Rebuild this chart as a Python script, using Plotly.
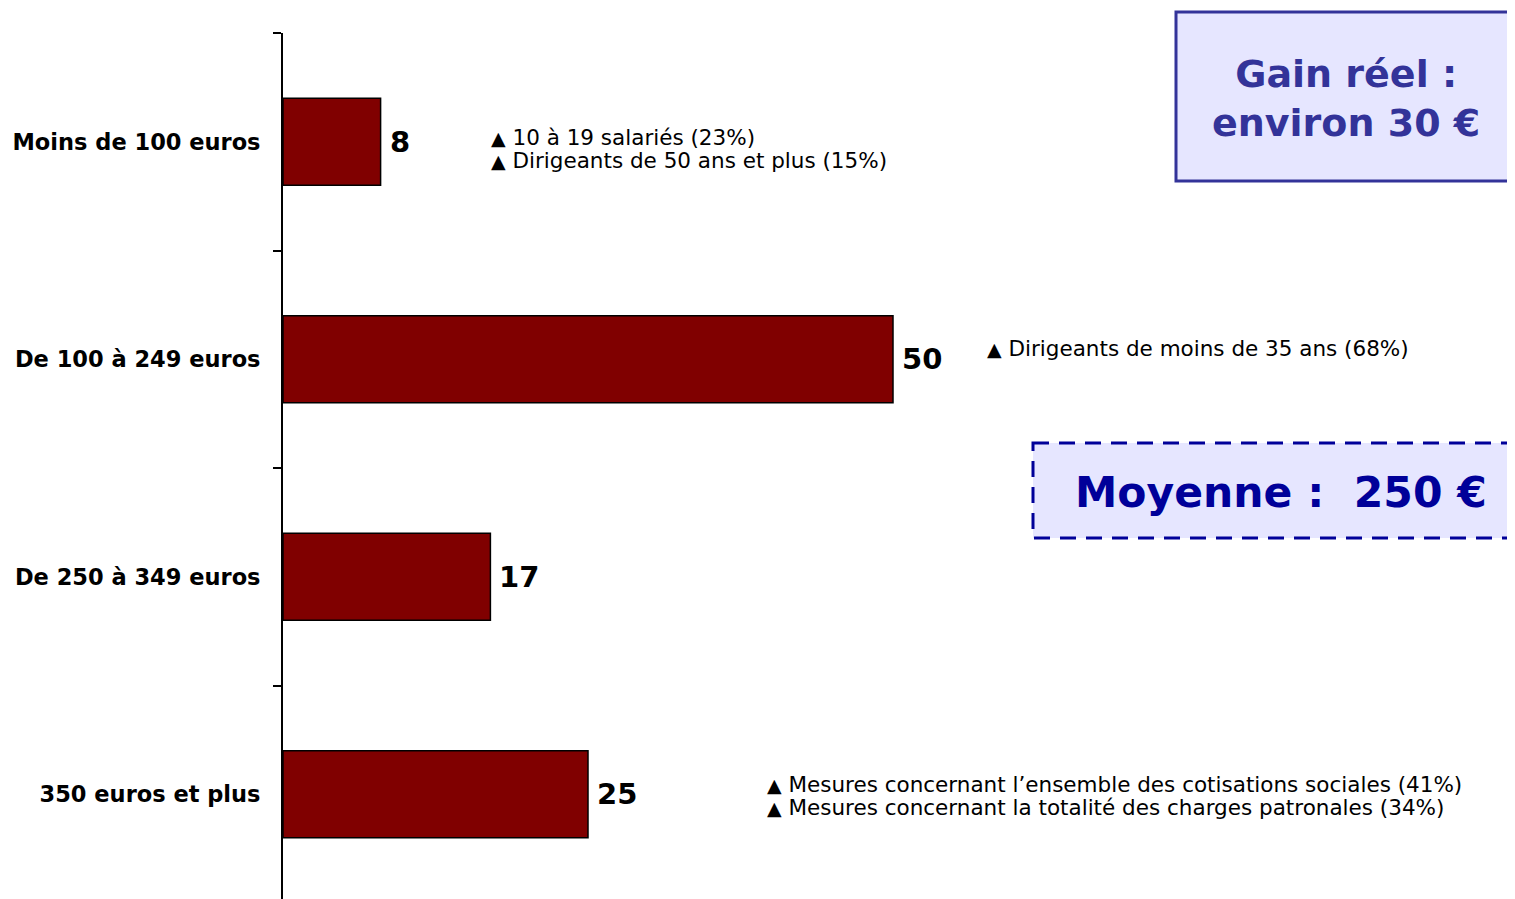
import plotly.graph_objects as go

categories = ["Moins de 100 euros", "De 100 à 249 euros", "De 250 à 349 euros", "350 euros et plus"]
values = [8, 50, 17, 25]
notes = [
    ["10 à 19 salariés (23%)", "Dirigeants de 50 ans et plus (15%)"],
    ["Dirigeants de moins de 35 ans (68%)"],
    [],
    ["Mesures concernant l’ensemble des cotisations sociales (41%)",
     "Mesures concernant la totalité des charges patronales (34%)"],
]
gain_text = "Gain réel :<br>environ 30 €"
moyenne_text = "Moyenne :  250 €"

# page body has an 8px margin; work in page pixels and convert
OFF = 8
W, H = 1515, 899
AXIS_X, TOP_Y = 283, 33
ML, MT = AXIS_X - OFF, TOP_Y - OFF
PW, PH = W - ML, H - MT

def px(x):
    return (x - AXIS_X) / PW

def py(y):
    return 1 - (y - TOP_Y) / PH

FONT = "DejaVu Sans, Verdana, sans-serif"
BAR_COLOR = "#800000"

fig = go.Figure()
fig.add_trace(go.Bar(
    x=values, y=categories, orientation="h", width=0.4,
    marker=dict(color=BAR_COLOR, line=dict(color="black", width=1.5)),
    hoverinfo="skip",
))

annotations = []
for c, v in zip(categories, values):
    annotations.append(dict(
        x=v, y=c, xref="x", yref="y", text=f"<b>{v}</b>", showarrow=False,
        xanchor="left", yanchor="middle", xshift=7,
        font=dict(family=FONT, size=29, color="black"),
    ))

# note placements (left x in page px, first line center y in page px)
note_pos = [(489, 137), (985, 348), None, (765, 784)]
for lines, pos in zip(notes, note_pos):
    if not lines:
        continue
    x0, y0 = pos
    for i, line in enumerate(lines):
        annotations.append(dict(
            x=px(x0), y=py(y0 + 23 * i), xref="paper", yref="paper",
            text="<span style='font-size:19px'>▲</span> " + line,
            showarrow=False, xanchor="left", yanchor="middle",
            font=dict(family=FONT, size=21.5, color="black"),
        ))

annotations.append(dict(
    x=px(1346), y=py(99), xref="paper", yref="paper", text=f"<b>{gain_text}</b>",
    showarrow=False, xanchor="center", yanchor="middle", align="center",
    font=dict(family=FONT, size=38, color="#333399"),
))
annotations.append(dict(
    x=px(1281), y=py(492), xref="paper", yref="paper", text=f"<b>{moyenne_text}</b>",
    showarrow=False, xanchor="center", yanchor="middle",
    font=dict(family=FONT, size=42.5, color="#000099"),
))

shapes = [
    dict(type="rect", xref="paper", yref="paper",
         x0=px(1176), x1=px(1540), y0=py(12), y1=py(181),
         line=dict(color="#333399", width=3), fillcolor="#E6E6FF", layer="below"),
    dict(type="rect", xref="paper", yref="paper",
         x0=px(1033), x1=px(1540), y0=py(443), y1=py(538),
         line=dict(color="#000099", width=3, dash="16px,10px"), fillcolor="#E6E6FF", layer="below"),
]

fig.update_layout(
    width=W, height=H,
    margin=dict(l=ML, r=0, t=MT, b=0, pad=0),
    paper_bgcolor="white", plot_bgcolor="white",
    showlegend=False, bargap=0.6,
    annotations=annotations, shapes=shapes,
    font=dict(family=FONT, color="black"),
    xaxis=dict(range=[0, PW / 12.2], visible=False, fixedrange=True),
    yaxis=dict(
        type="category", categoryorder="array", categoryarray=categories[::-1],
        range=[3.5 - PH / 217.5, 3.5],
        showline=True, linecolor="black", linewidth=2,
        ticks="outside", ticklen=8, tickwidth=1.5, tickcolor="black", tickson="boundaries",
        showgrid=False, zeroline=False, ticklabelstandoff=16,
        tickfont=dict(family=FONT, size=22.5, color="black", weight="bold"),
        fixedrange=True,
    ),
)

fig.write_html("out.html", config={"displayModeBar": False})
